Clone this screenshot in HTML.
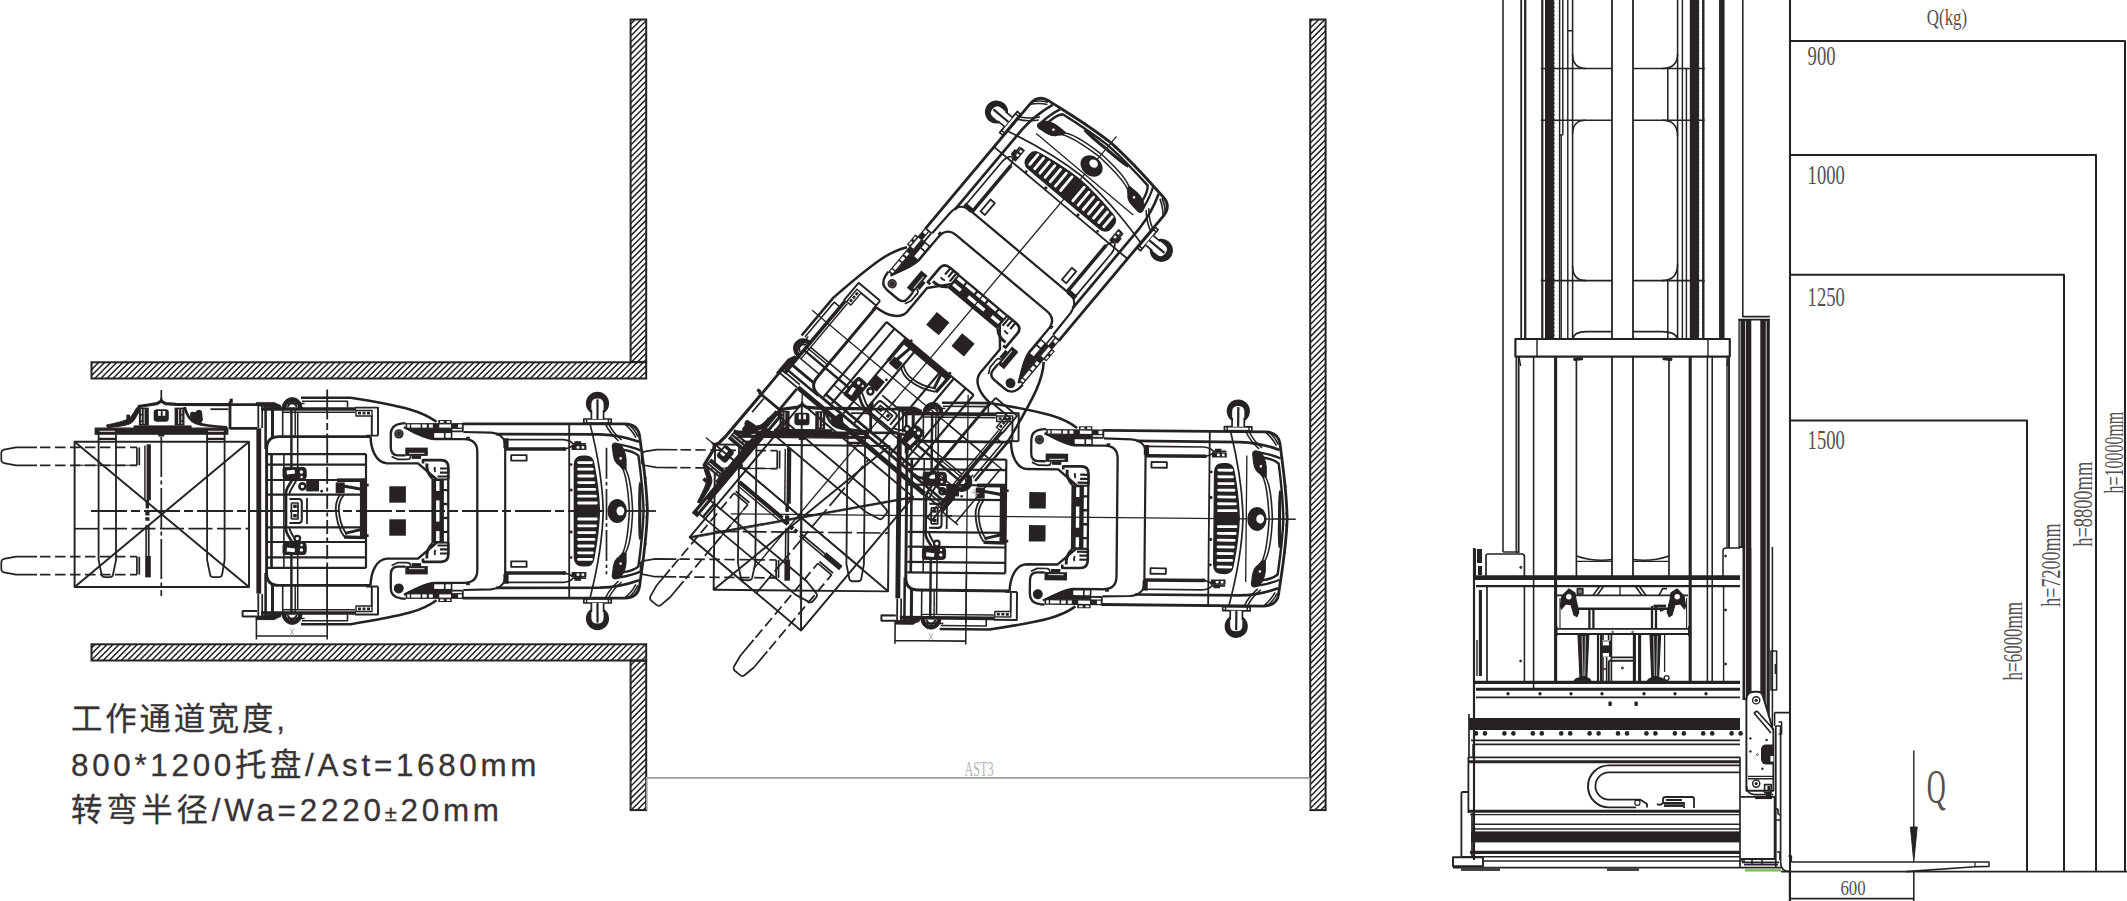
<!DOCTYPE html>
<html lang="zh"><head><meta charset="utf-8"><title>工作通道宽度</title>
<style>html,body{margin:0;padding:0;background:#fff;}body{width:2127px;height:901px;overflow:hidden;font-family:"Liberation Sans","Noto Sans CJK SC",sans-serif;}svg{display:block;position:absolute;left:0;top:0}</style>
</head><body>
<svg width="2127" height="901" viewBox="0 0 2127 901">
<defs>
<g id="half" fill="none" stroke="#262223" stroke-linecap="butt" stroke-linejoin="round">
<path d="M37,447.4 L16,447.4 L4,449.6 Q1.3,450.4 1.3,453 L1.3,459.8 Q1.3,462.4 4,463.2 L16,465.3 L37,465.3" stroke-width="1.71" />
<path d="M37,447.4L137,447.4" stroke-width="1.71" stroke-dasharray="10.5 4.5" stroke-dashoffset="-3"/>
<path d="M37,465.3L137,465.3" stroke-width="1.71" stroke-dasharray="10.5 4.5" stroke-dashoffset="-3"/>
<path d="M136.9,447.4L136.9,465.3" stroke-width="1.71" />
<path d="M139.3,447.4L139.3,465.3" stroke-width="1.71" />
<path d="M258.8,428.3L258.8,511" stroke-width="4.88" />
<path d="M258.3,404L258.3,428" stroke-width="1.83" />
<path d="M262.2,404L262.2,428" stroke-width="1.71" />
<path d="M265.6,404L265.6,449" stroke-width="2.56" />
<path d="M272.5,409L272.5,438" stroke-width="3.05" />
<path d="M256.2,402.4 L274,402.4 L281,405.6 L281,409 L256.2,405.4 Z" stroke-width="0.73" fill="#262223"/>
<path d="M261,409L356,409" stroke-width="3.66" />
<path d="M282.7,412.3L355,412.3" stroke-width="1.46" />
<path d="M355,407.6 L378,407.6 L378,435.6 M371.8,416 L371.8,435.6 M366,435.6 L378,435.6" stroke-width="1.95" />
<rect x="356" y="410.5" width="16" height="5.5" stroke-width="1.46" />
<path d="M358,413.2 L370,413.2" stroke-width="2.68" stroke-dasharray="3 1.5"/>
<path d="M282.2,408 A10,10.4 0 0 1 302.2,408 L298.6,408 A6.4,6.8 0 0 0 285.8,408 Z" stroke-width="0.98" fill="#262223"/>
<path d="M287.4,407 L292.2,400.6 L297,407 M285.6,403.6 L298.8,403.6" stroke-width="1.95" />
<path d="M296,403.5L304.6,403.5" stroke-width="1.46" />
<path d="M301,397.8 L350.5,397.8 C372,401.2 396,405.6 410,409.4 C421,412.6 429,416.2 436.5,421.8" stroke-width="2.56" />
<path d="M302,401.3 L347.5,401.3 L347.5,407.6" stroke-width="1.59" />
<path d="M282.7,409L282.7,436" stroke-width="1.59" />
<path d="M291.4,409L291.4,470" stroke-width="2.44" />
<path d="M295.2,409L295.2,436" stroke-width="1.46" />
<path d="M297.7,412L297.7,470" stroke-width="1.59" />
<path d="M266.6,511 L266.6,449 Q266.6,436.6 279,436.6 L370.5,436.6" stroke-width="2.93" />
<path d="M370.5,436.6 C371,450 376,462.5 387,463.4 L418,463.4 L436,478.8 L436,511" stroke-width="2.44" />
<path d="M268,454.2L366,454.2" stroke-width="2.2" />
<path d="M268,464.6L366,464.6" stroke-width="2.2" />
<path d="M268,480L366,480" stroke-width="2.2" />
<path d="M268,494.6L366,494.6" stroke-width="2.2" />
<path d="M271.5,454L271.5,511" stroke-width="2.68" />
<path d="M283.9,454L283.9,511" stroke-width="1.59" />
<path d="M366,454L366,511" stroke-width="2.2" />
<path d="M284.6,467.4 L303,467.4 Q306.2,467.4 306.2,470.6 L306.2,476.4 Q306.2,479.4 303,479.4 L286,479.4 Q283,479.4 283,476.4 L283,469 Q283,467.4 284.6,467.4 Z" stroke-width="0.98" fill="#262223"/>
<path d="M286.6,470.6 L294.6,469.8 L295,473.6 L287,474.6 Z" stroke-width="0.0" fill="#fff" stroke="none"/>
<circle cx="301.4" cy="472" r="1.7" fill="#fff" stroke="none"/>
<circle cx="301.6" cy="477" r="1.2" fill="#fff" stroke="none"/>
<path d="M292.4,479.4 C289.6,485 286,488 286,493 L286,511" stroke-width="2.68" />
<path d="M296.6,479.4 C294,486 289.6,489.6 289.4,494.6" stroke-width="1.95" />
<path d="M289.4,499 L298.6,499 Q301.8,499 301.8,502.2 L301.8,511" stroke-width="2.07" />
<path d="M291.4,503 L298,503 L298,511 M291.4,503 L291.4,511" stroke-width="1.71" />
<rect x="293.2" y="504.6" width="3.6" height="3.4" stroke-width="0.0" fill="#262223"/>
<path d="M307,498 L307,511" stroke-width="1.83" />
<rect x="389.3" y="486.3" width="16.6" height="16.4" stroke-width="0.0" fill="#262223"/>
<path d="M405.6,423.2 L401,423.6 C394.6,424.4 390.8,428 390.8,434 L390.8,447.6 C390.8,453 393.6,455.4 398,455.4 L405.4,455.4" stroke-width="2.32" />
<path d="M403.9,427.3 C410,430 414,432.4 418.3,434.2 C424,436.8 428,438.6 434,439.2 L464,439.2 Q477.3,439.2 477.3,452 L477.3,511" stroke-width="2.32" />
<circle cx="398.9" cy="433.9" r="4.7" stroke="none" fill="#2f2b2c"/>
<circle cx="398.9" cy="433.9" r="2.7" stroke="#5d595a" stroke-width="0.9" fill="none"/>
<rect x="405.3" y="447.6" width="22.5" height="8.3" stroke-width="0.0" fill="#262223"/>
<path d="M409,453.4L424.4,453.4" stroke-width="1.22" stroke="#c8c8c8"/>
<rect x="411.7" y="455.6" width="9.4" height="3.3" stroke-width="0.0" fill="#262223"/>
<path d="M391.6,456.4 L398,459.4 L407,459.4 Q410.6,459.4 410.6,456" stroke-width="1.71" />
<rect x="466.1" y="436.8" width="3.7" height="2.4" stroke-width="0.0" fill="#262223"/>
<rect x="405.6" y="423.1" width="57.2" height="5.8" stroke-width="0.0" fill="#262223"/>
<rect x="407.2" y="424.4" width="2.6" height="3.2" stroke-width="0.0" fill="#fff" stroke="none"/>
<rect x="411.2" y="424.4" width="9.4" height="3.2" stroke-width="0.0" fill="#fff" stroke="none"/>
<rect x="422.2" y="424.4" width="4.6" height="3.2" stroke-width="0.0" fill="#fff" stroke="none"/>
<rect x="428.9" y="424.4" width="3.9" height="3.2" stroke-width="0.0" fill="#fff" stroke="none"/>
<rect x="439.3" y="424.4" width="11.7" height="3.2" stroke-width="0.0" fill="#fff" stroke="none"/>
<rect x="458" y="424.4" width="4" height="3.2" stroke-width="0.0" fill="#fff" stroke="none"/>
<rect x="438.3" y="420" width="13.4" height="3.4" stroke-width="0.0" fill="#262223"/>
<rect x="440" y="421" width="3.8" height="1.7" stroke-width="0.0" fill="#fff" stroke="none"/>
<rect x="446.6" y="421" width="3.6" height="1.7" stroke-width="0.0" fill="#fff" stroke="none"/>
<path d="M406,428.8 C412,431.6 418,434.4 424,436.8 C428,438.4 432,439.4 436,439.4 L452,439.4 L452,428.8 Z" stroke-width="0.73" fill="#262223"/>
<rect x="434.2" y="433.1" width="9.7" height="4.6" stroke-width="0.0" fill="#fff" stroke="none"/>
<rect x="445.6" y="433.1" width="5.2" height="4.6" stroke-width="0.0" fill="#fff" stroke="none"/>
<path d="M452,431.4 L462.8,431.4 M462.8,423.1 L462.8,431.4" stroke-width="1.83" />
<path d="M423,463.4 L423,460.2 L441,460.2 Q448.4,460.2 448.4,468 L448.4,479" stroke-width="2.68" />
<path d="M427,463.6 C426,470 428,474 432.4,478.5" stroke-width="2.93" />
<path d="M440,468.5 L448,468.5 M440,472.6 L448,472.6 M437.5,476.5 L448,476.5" stroke-width="2.2" />
<path d="M435,467 q-1,3 0.5,5" stroke-width="1.95" />
<rect x="431.4" y="478.4" width="18" height="32.6" stroke-width="0.0" fill="#262223"/>
<rect x="436.1" y="481" width="3.4" height="9.899999999999977" stroke-width="0.0" fill="#fff" stroke="none"/>
<rect x="436.1" y="500.4" width="3.4" height="10.800000000000011" stroke-width="0.0" fill="#fff" stroke="none"/>
<rect x="443.9" y="480.4" width="3.2" height="8.600000000000023" stroke-width="0.0" fill="#fff" stroke="none"/>
<rect x="443.9" y="491.2" width="3.2" height="11.600000000000023" stroke-width="0.0" fill="#fff" stroke="none"/>
<rect x="443.9" y="505.2" width="3.2" height="6.0" stroke-width="0.0" fill="#fff" stroke="none"/>
<path d="M462.5,423.9 L625,423.9 C634,424.2 638.5,428.4 639.6,436 C641.5,452 646.6,480 647.4,511" stroke-width="2.81" />
<path d="M496,434.2 L600,434.3 C612,434.6 627,437.4 639,441.8" stroke-width="2.68" />
<path d="M463.3,432 L491,432.7 C499,433.4 505.2,437.6 505.2,446 L505.2,511" stroke-width="2.2" />
<rect x="503.4" y="438.2" width="5.2" height="10" stroke-width="0.0" fill="#262223"/>
<path d="M505,448.9 L565,448.9" stroke-width="3.54" />
<path d="M508,439.6 L563,439.6 Q570,440 573,443.8 L586,443.8" stroke-width="1.71" />
<path d="M563,448.9 Q570,448.6 573,445" stroke-width="1.71" />
<rect x="571.6" y="444.8" width="14.8" height="5.2" stroke-width="0.0" fill="#262223"/>
<rect x="574.4" y="441.2" width="6.6" height="3.8" stroke-width="0.0" fill="#262223"/>
<rect x="576.6" y="446.2" width="2.8" height="2.4" stroke-width="0.0" fill="#fff" stroke="none"/>
<rect x="581.6" y="446.2" width="2.6" height="2.4" stroke-width="0.0" fill="#fff" stroke="none"/>
<rect x="562.6" y="447.4" width="3.6" height="3.2" stroke-width="0.0" fill="#262223"/>
<rect x="511.2" y="455.1" width="15.4" height="5.6" stroke-width="1.83" />
<path d="M569.2,423.9L569.2,511" stroke-width="1.83" />
<path d="M571,490 l0.1,0" stroke-width="3.17" stroke-linecap="round"/>
<path d="M571,464.5 l0.1,0" stroke-width="2.68" stroke-linecap="round"/>
<rect x="583.8" y="419" width="27.4" height="4" stroke-width="1.71" />
<path d="M586.6,419L586.6,423" stroke-width="1.46" />
<path d="M608.4,419L608.4,423" stroke-width="1.46" />
<circle cx="597.5" cy="403.4" r="11.6" stroke="none" fill="#262223"/>
<path d="M591.4,419 L591.4,404 Q591.4,398.4 597.5,398.4 Q603.6,398.4 603.6,404 L603.6,419 Z" stroke-width="0.0" fill="#fff" stroke="none"/>
<path d="M591.4,419 L591.4,410 M603.6,419 L603.6,410" stroke-width="1.71" />
<path d="M597.5,399.4L597.5,419" stroke-width="2.2" />
<path d="M590,423.9 C596.6,450 602.6,480 603.2,511" stroke-width="1.71" />
<path d="M605.4,423.9 C609,432 613,436 618.6,441 " stroke-width="1.59" />
<path d="M608.6,423.9 C612,431 616,435.4 621.6,440" stroke-width="1.59" />
<path d="M624.6,423.8 C629,427.5 633,432 636,437.6" stroke-width="1.59" />
<path d="M628,423.8 C632,427 635.6,431.6 638,436.6" stroke-width="1.59" />
<path d="M612.3,446 Q612.6,443 615.4,443 L619.6,444 C622.6,447 625.4,453 626,459 L626,469 L623,469 L619,465 C615.6,463 614,459 613.4,455 Z" stroke-width="1.22" fill="#262223"/>
<circle cx="620.6" cy="458.4" r="1.3" fill="#fff" stroke="none"/>
<path d="M619.8,444.6 C628,446 634,447.6 640.4,450.4" stroke-width="2.32" />
<path d="M622.6,449.6 C630,450.6 635,452.4 638.4,455.6 C640.4,470 643,490 643.6,511" stroke-width="2.44" />
<path d="M621,466 C626,472 628,486 629.4,511" stroke-width="1.59" />
<path d="M624.6,468 C629.4,474 631.8,490 632.6,511" stroke-width="1.59" />
<path d="M640.6,482.5 C639.6,490 639.6,500 639.8,511" stroke-width="3.17" />
<path d="M644.6,478 l2,0.4 M645.6,505 l2.4,0" stroke-width="1.95" />
<path d="M574.4,511 L574.4,465 Q574.4,456.2 583,456.2 L586,456.2 Q592.4,456.2 593.6,463 C596.6,478 599,495 599.4,511 Z" stroke-width="1.46" fill="#262223"/>
<path d="M578.6,462.6 L591.5,462.6" stroke-width="2.81" stroke="#fff" stroke-linecap="round"/>
<path d="M578.6,469.2 L592.3,469.2" stroke-width="2.81" stroke="#fff" stroke-linecap="round"/>
<path d="M578.6,476 L593.1,476" stroke-width="2.81" stroke="#fff" stroke-linecap="round"/>
<path d="M578.6,482.6 L593.9,482.6" stroke-width="2.81" stroke="#fff" stroke-linecap="round"/>
<path d="M578.6,489.4 L594.7,489.4" stroke-width="2.81" stroke="#fff" stroke-linecap="round"/>
<path d="M578.6,496.2 L595.5,496.2" stroke-width="2.81" stroke="#fff" stroke-linecap="round"/>
<path d="M578.6,503 L596.3,503" stroke-width="2.81" stroke="#fff" stroke-linecap="round"/>
</g>
<g id="truck" fill="none" stroke="#262223" stroke-linejoin="round">
<use href="#half"/>
<use href="#half" transform="translate(0,1022) scale(1,-1)"/>
<rect x="74.6" y="441.7" width="174.4" height="145.3" stroke-width="1.95" />
<path d="M74.6,441.7L249,587" stroke-width="1.95" />
<path d="M74.6,587L249,441.7" stroke-width="1.95" />
<path d="M74.6,528.7L98,528.7" stroke-width="1.71" />
<path d="M103,528.7L249,528.7" stroke-width="1.71" stroke-dasharray="24 4.5"/>
<path d="M74.6,465.3L137,465.3" stroke-width="1.1" />
<rect x="146.6" y="444.3" width="4.3" height="56" stroke-width="0.0" fill="#262223"/>
<path d="M144.9,445.5L144.9,500" stroke-width="1.46" />
<rect x="145.6" y="500" width="3.4" height="8.5" stroke-width="0.0" fill="#262223"/>
<path d="M147.4,512L147.4,521" stroke-width="4.15" stroke-dasharray="3.6 1.6"/>
<path d="M146.1,525L146.1,556" stroke-width="1.59" />
<path d="M148.7,525L148.7,556" stroke-width="1.83" />
<rect x="145.2" y="556" width="5.6" height="21.4" stroke-width="0.0" fill="#262223"/>
<path d="M98.6,434 L98.6,560 L101.6,574.6 Q102.2,577.2 104.8,577.2 L109.8,577.2 Q112.4,577.2 113,574.6 L116,560 L116,434" stroke-width="1.83" />
<path d="M207.1,434 L207.1,560 L210.1,574.6 Q210.7,577.2 213.3,577.2 L218.9,577.2 Q221.5,577.2 222.1,574.6 L224.6,560 L224.6,434" stroke-width="1.83" />
<path d="M95.2,428.2 L227.8,428.2 L227.8,434.2 L95.2,434.2 Z" stroke-width="1.22" fill="#262223"/>
<path d="M99.6,431.3L114.8,431.3" stroke-width="1.1" stroke="#ddd"/>
<path d="M208,431.3L223.8,431.3" stroke-width="1.1" stroke="#ddd"/>
<rect x="158.3" y="434" width="6" height="2.6" stroke-width="0.0" fill="#262223"/>
<path d="M98,438.9 L116.6,438.9 M206.8,438.9 L224.8,438.9" stroke-width="2.44" />
<rect x="133.6" y="425.4" width="58" height="3.4" stroke-width="0.0" fill="#262223"/>
<path d="M138,406.6 L148,405 L157,403.6 L161.3,401.2 L165.6,403.6 L176,404.4 L231,404.7" stroke-width="3.17" />
<path d="M138.6,406 C134.6,409 133,416 129,418.4 C124,421.4 114,423.4 106.6,425 L107.4,427.6 C118,426.6 127,425.6 131.4,423 C135.6,420 137,414 140.6,409.6 Z" stroke-width="0.98" fill="#262223"/>
<path d="M128.2,414.6 L128.2,419.6" stroke-width="3.66" />
<rect x="138.9" y="407.6" width="9.9" height="18" stroke-width="0.0" fill="#262223"/>
<path d="M141.4,409L141.4,424" stroke-width="0.98" stroke="#d8d8d8" stroke-dasharray="5 1.5"/>
<path d="M144.2,409L144.2,424" stroke-width="0.98" stroke="#d8d8d8"/>
<rect x="174.6" y="407.6" width="9.9" height="18" stroke-width="0.0" fill="#262223"/>
<path d="M178.6,409L178.6,424" stroke-width="0.98" stroke="#d8d8d8"/>
<path d="M181.8,409L181.8,424" stroke-width="0.98" stroke="#d8d8d8" stroke-dasharray="5 1.5"/>
<rect x="153.7" y="409.2" width="15.1" height="12.6" stroke-width="0.0" fill="#262223" rx="3.2"/>
<rect x="158.1" y="411" width="2.7" height="4.8" stroke-width="0.0" fill="#fff" stroke="none"/>
<rect x="162.6" y="411" width="2.7" height="4.8" stroke-width="0.0" fill="#fff" stroke="none"/>
<path d="M161.3,398L161.3,403" stroke-width="2.2" />
<path d="M184.6,407 C186.6,415 189.6,420.6 196,423 C203,425.4 212,426.4 227,427.4" stroke-width="2.81" />
<path d="M191,413 C192.6,411.4 194.6,413.6 196,412.4 C197,410 200.6,409.6 201.4,412 L202.3,420 L199.6,424.4 L194.4,422 C191.6,419.6 190,416 191,413 Z" stroke-width="1.22" fill="#262223"/>
<path d="M230,401.6 L230,429.3 M230,428.4 L257,428.4 M230,404.7 L257,404.7" stroke-width="2.81" />
<path d="M231.2,398.6 l0,4.4" stroke-width="3.17" />
<path d="M210.4,409.2 L228.4,409.2" stroke-width="1.83" />
<path d="M257,404.4L273.3,404.4" stroke-width="2.68" />
<path d="M257,618.2L275,618.2" stroke-width="3.17" />
<path d="M242.6,611 L257,611 M242.6,616.4 L257,616.4 M242.6,610.4 L242.6,617" stroke-width="1.95" />
<path d="M256.4,618 L256.4,639.4 M327.2,566 L327.2,639.4 M256.4,636 L327.2,636" stroke-width="1.59" />
<path d="M290.2,628.4 L294.2,635.4 M294.2,628.4 L290.2,635.4" stroke-width="0.98" stroke="#aaa"/>
<rect x="306.2" y="480.2" width="12.8" height="11.2" stroke-width="0.0" fill="#262223"/>
<circle cx="302.4" cy="486.4" r="3" fill="#fff" stroke-width="2.6"/>
<path d="M321.6,491.2 l0.1,0" stroke-width="2.68" stroke-linecap="round"/>
<path d="M307,511 L312,511" stroke-width="1.71" />
<circle cx="297.3" cy="538.6" r="2.8" fill="#fff" stroke-width="2.2"/>
<path d="M337,480.2 L366.3,480.2" stroke-width="3.66" />
<rect x="359.9" y="478.8" width="6.4" height="59.4" stroke-width="0.0" fill="#262223"/>
<rect x="335.7" y="482.4" width="9" height="10.8" stroke-width="0.0" fill="#262223"/>
<path d="M342,485.8 L361.6,489.2" stroke-width="3.17" />
<path d="M340.6,494 C337,499 335.6,503 335.8,509 C336,518 338,527 344,536.6" stroke-width="1.83" />
<path d="M343.6,495 C340,500 338.6,504 338.8,509 C339,518 341,526 346.6,534.4" stroke-width="1.83" />
<path d="M344,537 L366,537.6" stroke-width="3.42" />
<path d="M345,533.4 L360.6,529.6" stroke-width="2.93" />
<path d="M366.3,485.2 l2.4,0 M366.3,535.6 l2.4,0" stroke-width="2.68" />
<circle cx="398.7" cy="588.7" r="4.8" stroke="none" fill="#262223"/>
<rect x="579" y="505.4" width="17" height="11.2" stroke-width="0.0" fill="#262223"/>
<ellipse cx="617.2" cy="511" rx="9.7" ry="12" stroke="none" fill="#262223"/>
<ellipse cx="620.4" cy="511" rx="3.9" ry="4.5" fill="#fff" stroke="none"/>
</g>
<g id="clA" fill="none" stroke="#262223"><path d="M91,511L607,511" stroke-width="1.83" stroke-dasharray="36 4 9 4"/>
<path d="M625,511L656,511" stroke-width="1.83" />
<path d="M161.3,390L161.3,401" stroke-width="1.71" />
<path d="M161.3,437L161.3,596" stroke-width="1.71" stroke-dasharray="40 3.5 4 3.5"/>
<path d="M327.2,389.6L327.2,470" stroke-width="1.83" stroke-dasharray="30 3.5 7 3.5"/>
<path d="M327.2,470L327.2,566" stroke-width="1.83" stroke-dasharray="14 3.5 4 3.5"/>
<path d="M327.2,566L327.2,618" stroke-width="1.59" />
<path d="M606.5,447.7L606.5,574.3" stroke-width="1.71" stroke-dasharray="31 3.4 3.4 3.4"/></g>
<g id="clB" fill="none" stroke="#262223"><path d="M91,511L607,511" stroke-width="1.34" />
<path d="M625,511L656,511" stroke-width="1.34" />
<path d="M161.3,390L161.3,401" stroke-width="1.34" />
<path d="M161.3,437L161.3,596" stroke-width="1.34" />
<path d="M327.2,389.6L327.2,618" stroke-width="1.34" />
<path d="M606.5,447.7L606.5,574.3" stroke-width="1.34" /></g>
</defs>
<rect width="2127" height="901" fill="#fff"/>
<clipPath id="wc0"><rect x="91.5" y="362.3" width="554.7" height="16.2"/></clipPath>
<path clip-path="url(#wc0)" d="M89.5,365.6L94.8,360.3M89.5,371.6L100.8,360.3M89.5,377.6L106.8,360.3M92.7,380.5L112.9,360.3M98.8,380.5L118.9,360.3M104.8,380.5L125.0,360.3M110.9,380.5L131.1,360.3M116.9,380.5L137.1,360.3M122.9,380.5L143.1,360.3M129.0,380.5L149.2,360.3M135.0,380.5L155.2,360.3M141.1,380.5L161.3,360.3M147.1,380.5L167.3,360.3M153.2,380.5L173.4,360.3M159.2,380.5L179.4,360.3M165.3,380.5L185.5,360.3M171.3,380.5L191.5,360.3M177.4,380.5L197.6,360.3M183.4,380.5L203.6,360.3M189.5,380.5L209.7,360.3M195.5,380.5L215.7,360.3M201.6,380.5L221.8,360.3M207.6,380.5L227.8,360.3M213.7,380.5L233.9,360.3M219.7,380.5L239.9,360.3M225.8,380.5L246.0,360.3M231.8,380.5L252.0,360.3M237.9,380.5L258.1,360.3M243.9,380.5L264.1,360.3M250.0,380.5L270.2,360.3M256.0,380.5L276.2,360.3M262.1,380.5L282.3,360.3M268.1,380.5L288.3,360.3M274.2,380.5L294.4,360.3M280.2,380.5L300.4,360.3M286.3,380.5L306.5,360.3M292.3,380.5L312.5,360.3M298.4,380.5L318.6,360.3M304.4,380.5L324.6,360.3M310.5,380.5L330.7,360.3M316.5,380.5L336.7,360.3M322.6,380.5L342.8,360.3M328.6,380.5L348.8,360.3M334.7,380.5L354.9,360.3M340.7,380.5L360.9,360.3M346.8,380.5L367.0,360.3M352.8,380.5L373.0,360.3M358.9,380.5L379.1,360.3M364.9,380.5L385.1,360.3M371.0,380.5L391.2,360.3M377.0,380.5L397.2,360.3M383.1,380.5L403.3,360.3M389.1,380.5L409.3,360.3M395.2,380.5L415.4,360.3M401.2,380.5L421.4,360.3M407.3,380.5L427.5,360.3M413.3,380.5L433.5,360.3M419.4,380.5L439.6,360.3M425.4,380.5L445.6,360.3M431.5,380.5L451.7,360.3M437.5,380.5L457.7,360.3M443.6,380.5L463.8,360.3M449.6,380.5L469.8,360.3M455.7,380.5L475.9,360.3M461.7,380.5L481.9,360.3M467.8,380.5L488.0,360.3M473.8,380.5L494.0,360.3M479.9,380.5L500.1,360.3M485.9,380.5L506.1,360.3M492.0,380.5L512.2,360.3M498.0,380.5L518.2,360.3M504.1,380.5L524.3,360.3M510.1,380.5L530.3,360.3M516.2,380.5L536.4,360.3M522.2,380.5L542.4,360.3M528.3,380.5L548.5,360.3M534.3,380.5L554.5,360.3M540.4,380.5L560.6,360.3M546.4,380.5L566.6,360.3M552.5,380.5L572.7,360.3M558.5,380.5L578.8,360.3M564.6,380.5L584.8,360.3M570.6,380.5L590.8,360.3M576.7,380.5L596.9,360.3M582.7,380.5L602.9,360.3M588.8,380.5L609.0,360.3M594.8,380.5L615.0,360.3M600.9,380.5L621.1,360.3M606.9,380.5L627.1,360.3M613.0,380.5L633.2,360.3M619.0,380.5L639.2,360.3M625.1,380.5L645.3,360.3M631.1,380.5L648.2,363.4M637.2,380.5L648.2,369.5M643.2,380.5L648.2,375.5" stroke="#262223" stroke-width="1.5" fill="none"/>
<rect x="91.5" y="362.3" width="554.7" height="16.2" fill="none" stroke="#262223" stroke-width="2"/>
<clipPath id="wc1"><rect x="630.6" y="19.5" width="15.6" height="342.4"/></clipPath>
<path clip-path="url(#wc1)" d="M628.6,20.0L631.1,17.5M628.6,26.1L637.2,17.5M628.6,32.1L643.2,17.5M628.6,38.2L648.2,18.6M628.6,44.2L648.2,24.6M628.6,50.3L648.2,30.7M628.6,56.3L648.2,36.7M628.6,62.4L648.2,42.8M628.6,68.4L648.2,48.8M628.6,74.5L648.2,54.9M628.6,80.5L648.2,60.9M628.6,86.6L648.2,67.0M628.6,92.6L648.2,73.0M628.6,98.7L648.2,79.1M628.6,104.7L648.2,85.1M628.6,110.8L648.2,91.2M628.6,116.8L648.2,97.2M628.6,122.9L648.2,103.3M628.6,128.9L648.2,109.3M628.6,135.0L648.2,115.4M628.6,141.0L648.2,121.4M628.6,147.1L648.2,127.5M628.6,153.1L648.2,133.5M628.6,159.2L648.2,139.6M628.6,165.2L648.2,145.6M628.6,171.3L648.2,151.7M628.6,177.3L648.2,157.7M628.6,183.4L648.2,163.8M628.6,189.4L648.2,169.8M628.6,195.5L648.2,175.9M628.6,201.5L648.2,181.9M628.6,207.6L648.2,188.0M628.6,213.6L648.2,194.0M628.6,219.7L648.2,200.1M628.6,225.7L648.2,206.1M628.6,231.8L648.2,212.2M628.6,237.8L648.2,218.2M628.6,243.9L648.2,224.3M628.6,249.9L648.2,230.3M628.6,256.0L648.2,236.4M628.6,262.0L648.2,242.4M628.6,268.1L648.2,248.5M628.6,274.1L648.2,254.5M628.6,280.2L648.2,260.6M628.6,286.2L648.2,266.6M628.6,292.3L648.2,272.7M628.6,298.3L648.2,278.7M628.6,304.4L648.2,284.8M628.6,310.4L648.2,290.8M628.6,316.5L648.2,296.9M628.6,322.5L648.2,302.9M628.6,328.6L648.2,309.0M628.6,334.6L648.2,315.0M628.6,340.7L648.2,321.1M628.6,346.7L648.2,327.1M628.6,352.8L648.2,333.2M628.6,358.8L648.2,339.2M629.6,363.9L648.2,345.3M635.6,363.9L648.2,351.3M641.7,363.9L648.2,357.4M647.8,363.9L648.2,363.4" stroke="#262223" stroke-width="1.5" fill="none"/>
<rect x="630.6" y="19.5" width="15.6" height="342.4" fill="none" stroke="#262223" stroke-width="2"/>
<clipPath id="wc2"><rect x="91.5" y="644.3" width="554.7" height="16.2"/></clipPath>
<path clip-path="url(#wc2)" d="M89.5,643.8L91.0,642.3M89.5,649.9L97.1,642.3M89.5,655.9L103.1,642.3M89.5,662.0L109.2,642.3M95.0,662.5L115.2,642.3M101.1,662.5L121.3,642.3M107.1,662.5L127.4,642.3M113.2,662.5L133.4,642.3M119.2,662.5L139.4,642.3M125.3,662.5L145.5,642.3M131.3,662.5L151.5,642.3M137.4,662.5L157.6,642.3M143.4,662.5L163.6,642.3M149.5,662.5L169.7,642.3M155.5,662.5L175.8,642.3M161.6,662.5L181.8,642.3M167.6,662.5L187.9,642.3M173.7,662.5L193.9,642.3M179.7,662.5L199.9,642.3M185.8,662.5L206.0,642.3M191.8,662.5L212.0,642.3M197.9,662.5L218.1,642.3M203.9,662.5L224.1,642.3M210.0,662.5L230.2,642.3M216.0,662.5L236.2,642.3M222.1,662.5L242.3,642.3M228.1,662.5L248.4,642.3M234.2,662.5L254.4,642.3M240.2,662.5L260.4,642.3M246.3,662.5L266.5,642.3M252.3,662.5L272.5,642.3M258.4,662.5L278.6,642.3M264.4,662.5L284.6,642.3M270.5,662.5L290.7,642.3M276.5,662.5L296.8,642.3M282.6,662.5L302.8,642.3M288.6,662.5L308.9,642.3M294.7,662.5L314.9,642.3M300.7,662.5L320.9,642.3M306.8,662.5L327.0,642.3M312.8,662.5L333.0,642.3M318.9,662.5L339.1,642.3M324.9,662.5L345.1,642.3M331.0,662.5L351.2,642.3M337.0,662.5L357.2,642.3M343.1,662.5L363.3,642.3M349.1,662.5L369.4,642.3M355.2,662.5L375.4,642.3M361.2,662.5L381.4,642.3M367.3,662.5L387.5,642.3M373.3,662.5L393.5,642.3M379.4,662.5L399.6,642.3M385.4,662.5L405.6,642.3M391.5,662.5L411.7,642.3M397.5,662.5L417.8,642.3M403.6,662.5L423.8,642.3M409.6,662.5L429.8,642.3M415.7,662.5L435.9,642.3M421.8,662.5L442.0,642.3M427.8,662.5L448.0,642.3M433.8,662.5L454.0,642.3M439.9,662.5L460.1,642.3M445.9,662.5L466.1,642.3M452.0,662.5L472.2,642.3M458.0,662.5L478.2,642.3M464.1,662.5L484.3,642.3M470.1,662.5L490.3,642.3M476.2,662.5L496.4,642.3M482.2,662.5L502.5,642.3M488.3,662.5L508.5,642.3M494.3,662.5L514.5,642.3M500.4,662.5L520.6,642.3M506.4,662.5L526.6,642.3M512.5,662.5L532.7,642.3M518.5,662.5L538.8,642.3M524.6,662.5L544.8,642.3M530.6,662.5L550.8,642.3M536.7,662.5L556.9,642.3M542.8,662.5L563.0,642.3M548.8,662.5L569.0,642.3M554.8,662.5L575.0,642.3M560.9,662.5L581.1,642.3M566.9,662.5L587.1,642.3M573.0,662.5L593.2,642.3M579.0,662.5L599.2,642.3M585.1,662.5L605.3,642.3M591.1,662.5L611.3,642.3M597.2,662.5L617.4,642.3M603.2,662.5L623.5,642.3M609.3,662.5L629.5,642.3M615.3,662.5L635.5,642.3M621.4,662.5L641.6,642.3M627.4,662.5L647.6,642.3M633.5,662.5L648.2,647.8M639.5,662.5L648.2,653.8M645.6,662.5L648.2,659.9" stroke="#262223" stroke-width="1.5" fill="none"/>
<rect x="91.5" y="644.3" width="554.7" height="16.2" fill="none" stroke="#262223" stroke-width="2"/>
<clipPath id="wc3"><rect x="630.6" y="660.7" width="15.6" height="149.4"/></clipPath>
<path clip-path="url(#wc3)" d="M628.6,661.3L631.2,658.7M628.6,667.4L637.3,658.7M628.6,673.4L643.3,658.7M628.6,679.5L648.2,659.9M628.6,685.5L648.2,665.9M628.6,691.6L648.2,672.0M628.6,697.6L648.2,678.0M628.6,703.7L648.2,684.1M628.6,709.7L648.2,690.1M628.6,715.8L648.2,696.2M628.6,721.8L648.2,702.2M628.6,727.9L648.2,708.3M628.6,733.9L648.2,714.3M628.6,740.0L648.2,720.4M628.6,746.0L648.2,726.4M628.6,752.1L648.2,732.5M628.6,758.1L648.2,738.5M628.6,764.2L648.2,744.6M628.6,770.2L648.2,750.6M628.6,776.3L648.2,756.7M628.6,782.3L648.2,762.7M628.6,788.4L648.2,768.8M628.6,794.4L648.2,774.8M628.6,800.5L648.2,780.9M628.6,806.5L648.2,786.9M629.1,812.1L648.2,793.0M635.1,812.1L648.2,799.0M641.2,812.1L648.2,805.1M647.2,812.1L648.2,811.1" stroke="#262223" stroke-width="1.5" fill="none"/>
<rect x="630.6" y="660.7" width="15.6" height="149.4" fill="none" stroke="#262223" stroke-width="2"/>
<clipPath id="wc4"><rect x="1310.2" y="19.5" width="15.4" height="790.6"/></clipPath>
<path clip-path="url(#wc4)" d="M1308.2,18.0L1308.8,17.5M1308.2,24.1L1314.8,17.5M1308.2,30.1L1320.8,17.5M1308.2,36.2L1326.9,17.5M1308.2,42.2L1327.6,22.8M1308.2,48.3L1327.6,28.9M1308.2,54.3L1327.6,34.9M1308.2,60.4L1327.6,41.0M1308.2,66.4L1327.6,47.0M1308.2,72.5L1327.6,53.1M1308.2,78.5L1327.6,59.1M1308.2,84.6L1327.6,65.2M1308.2,90.6L1327.6,71.2M1308.2,96.7L1327.6,77.3M1308.2,102.7L1327.6,83.3M1308.2,108.8L1327.6,89.4M1308.2,114.8L1327.6,95.4M1308.2,120.9L1327.6,101.5M1308.2,126.9L1327.6,107.5M1308.2,133.0L1327.6,113.6M1308.2,139.0L1327.6,119.6M1308.2,145.1L1327.6,125.7M1308.2,151.1L1327.6,131.7M1308.2,157.2L1327.6,137.8M1308.2,163.2L1327.6,143.8M1308.2,169.3L1327.6,149.9M1308.2,175.3L1327.6,155.9M1308.2,181.4L1327.6,162.0M1308.2,187.4L1327.6,168.0M1308.2,193.5L1327.6,174.1M1308.2,199.5L1327.6,180.1M1308.2,205.6L1327.6,186.2M1308.2,211.6L1327.6,192.2M1308.2,217.7L1327.6,198.3M1308.2,223.7L1327.6,204.3M1308.2,229.8L1327.6,210.4M1308.2,235.8L1327.6,216.4M1308.2,241.9L1327.6,222.5M1308.2,247.9L1327.6,228.5M1308.2,254.0L1327.6,234.6M1308.2,260.0L1327.6,240.6M1308.2,266.1L1327.6,246.7M1308.2,272.1L1327.6,252.7M1308.2,278.2L1327.6,258.8M1308.2,284.2L1327.6,264.8M1308.2,290.3L1327.6,270.9M1308.2,296.3L1327.6,276.9M1308.2,302.4L1327.6,283.0M1308.2,308.4L1327.6,289.0M1308.2,314.5L1327.6,295.1M1308.2,320.5L1327.6,301.1M1308.2,326.6L1327.6,307.2M1308.2,332.6L1327.6,313.2M1308.2,338.7L1327.6,319.3M1308.2,344.7L1327.6,325.3M1308.2,350.8L1327.6,331.4M1308.2,356.8L1327.6,337.4M1308.2,362.9L1327.6,343.5M1308.2,368.9L1327.6,349.5M1308.2,375.0L1327.6,355.6M1308.2,381.0L1327.6,361.6M1308.2,387.1L1327.6,367.7M1308.2,393.1L1327.6,373.7M1308.2,399.2L1327.6,379.8M1308.2,405.2L1327.6,385.8M1308.2,411.3L1327.6,391.9M1308.2,417.3L1327.6,397.9M1308.2,423.4L1327.6,404.0M1308.2,429.4L1327.6,410.0M1308.2,435.5L1327.6,416.1M1308.2,441.5L1327.6,422.1M1308.2,447.6L1327.6,428.2M1308.2,453.6L1327.6,434.2M1308.2,459.7L1327.6,440.3M1308.2,465.7L1327.6,446.3M1308.2,471.8L1327.6,452.4M1308.2,477.8L1327.6,458.4M1308.2,483.9L1327.6,464.5M1308.2,489.9L1327.6,470.5M1308.2,496.0L1327.6,476.6M1308.2,502.0L1327.6,482.6M1308.2,508.1L1327.6,488.7M1308.2,514.1L1327.6,494.7M1308.2,520.2L1327.6,500.8M1308.2,526.2L1327.6,506.8M1308.2,532.3L1327.6,512.9M1308.2,538.3L1327.6,518.9M1308.2,544.4L1327.6,525.0M1308.2,550.4L1327.6,531.0M1308.2,556.5L1327.6,537.1M1308.2,562.5L1327.6,543.1M1308.2,568.6L1327.6,549.2M1308.2,574.6L1327.6,555.2M1308.2,580.7L1327.6,561.3M1308.2,586.7L1327.6,567.3M1308.2,592.8L1327.6,573.4M1308.2,598.8L1327.6,579.4M1308.2,604.9L1327.6,585.5M1308.2,610.9L1327.6,591.5M1308.2,617.0L1327.6,597.6M1308.2,623.0L1327.6,603.6M1308.2,629.1L1327.6,609.7M1308.2,635.1L1327.6,615.7M1308.2,641.2L1327.6,621.8M1308.2,647.2L1327.6,627.8M1308.2,653.3L1327.6,633.9M1308.2,659.3L1327.6,639.9M1308.2,665.4L1327.6,646.0M1308.2,671.4L1327.6,652.0M1308.2,677.5L1327.6,658.1M1308.2,683.5L1327.6,664.1M1308.2,689.6L1327.6,670.2M1308.2,695.6L1327.6,676.2M1308.2,701.7L1327.6,682.3M1308.2,707.7L1327.6,688.3M1308.2,713.8L1327.6,694.4M1308.2,719.8L1327.6,700.4M1308.2,725.9L1327.6,706.5M1308.2,731.9L1327.6,712.5M1308.2,738.0L1327.6,718.6M1308.2,744.0L1327.6,724.6M1308.2,750.1L1327.6,730.7M1308.2,756.1L1327.6,736.7M1308.2,762.2L1327.6,742.8M1308.2,768.3L1327.6,748.9M1308.2,774.3L1327.6,754.9M1308.2,780.4L1327.6,761.0M1308.2,786.4L1327.6,767.0M1308.2,792.5L1327.6,773.0M1308.2,798.5L1327.6,779.1M1308.2,804.5L1327.6,785.1M1308.2,810.6L1327.6,791.2M1312.8,812.1L1327.6,797.2M1318.8,812.1L1327.6,803.3M1324.9,812.1L1327.6,809.4" stroke="#262223" stroke-width="1.5" fill="none"/>
<rect x="1310.2" y="19.5" width="15.4" height="790.6" fill="none" stroke="#262223" stroke-width="2"/>
<g stroke="#9c9c9c" stroke-width="1.8" fill="none"><line x1="646" y1="777.8" x2="1310" y2="777.8"/><line x1="646.6" y1="777" x2="646.6" y2="810" stroke-width="1.2"/><line x1="1309.6" y1="777" x2="1309.6" y2="810" stroke-width="1.2"/></g>
<text x="979" y="775.6" font-family="'Liberation Serif',serif" font-size="21" fill="#b4b4b4" text-anchor="middle" textLength="29" lengthAdjust="spacingAndGlyphs">AST3</text>
<g><use href="#truck"/><use href="#clA"/></g>
<g transform="translate(644.7,2) rotate(0.55)"><use href="#truck"/><use href="#clB"/></g>
<g transform="translate(303.4,310.4) rotate(-50)"><use href="#truck"/><use href="#clB"/></g>
<path d="M690,538.5 L905,499.4" stroke="#262223" stroke-width="0.8" fill="none"/>
<g fill="none" stroke="#262223" stroke-linejoin="round">
<path d="M1503,0L1503,552" stroke-width="1.56" />
<path d="M1521.2,0L1521.2,339" stroke-width="1.8" />
<path d="M1525.2,0L1525.2,339" stroke-width="2.28" />
<rect x="1545" y="0" width="9.6" height="339" stroke-width="0.0" fill="#262223"/>
<path d="M1542.3,0L1542.3,339" stroke-width="2.16" />
<path d="M1554.4,0L1554.4,339" stroke-width="0.84" stroke="#eee" stroke-dasharray="2.4 1.6"/>
<path d="M1559.6,0L1559.6,339" stroke-width="1.44" />
<path d="M1562.8,0L1562.8,135" stroke-width="1.44" />
<path d="M1561.2,135L1561.2,339" stroke-width="1.44" />
<path d="M1567.8,0L1567.8,339" stroke-width="1.44" />
<path d="M1572.6,0L1572.6,339" stroke-width="1.56" />
<path d="M1567.8,30.8 L1572.6,30.8 M1559.6,135 L1562.8,135" stroke-width="1.44" />
<path d="M1612,0L1612,339" stroke-width="1.8" />
<path d="M1633,0L1633,339" stroke-width="1.8" />
<path d="M1677.6,0L1677.6,339" stroke-width="1.56" />
<path d="M1682.4,0L1682.4,339" stroke-width="1.44" />
<path d="M1686.4,68.5L1686.4,339" stroke-width="1.44" />
<rect x="1689.8" y="0" width="9.4" height="339" stroke-width="0.0" fill="#262223"/>
<path d="M1703.3,0L1703.3,339" stroke-width="2.4" />
<path d="M1699.4,0L1699.4,339" stroke-width="0.84" stroke="#eee" stroke-dasharray="2.4 1.6"/>
<path d="M1721.8,0L1721.8,339" stroke-width="5.52" />
<path d="M1742.8,0L1742.8,317" stroke-width="1.56" />
<path d="M1540.8,68.5L1612,68.5" stroke-width="1.56" />
<path d="M1633,68.5L1704.8,68.5" stroke-width="1.56" />
<path d="M1540.8,120.2L1612,120.2" stroke-width="1.56" />
<path d="M1633,120.2L1704.8,120.2" stroke-width="1.56" />
<path d="M1540.8,280.6L1612,280.6" stroke-width="1.56" />
<path d="M1633,280.6L1704.8,280.6" stroke-width="1.56" />
<path d="M1572.6,54 Q1572.6,68.5 1586,68.5" stroke-width="1.56" />
<path d="M1586,120.2 Q1572.6,120.2 1572.6,134 M1572.6,266 Q1572.6,280.6 1586,280.6" stroke-width="1.56" />
<path d="M1586,331.6 Q1574,331.6 1572.6,339 M1586,331.6 L1612,331.6" stroke-width="1.56" />
<path d="M1677.6,54 Q1677.6,68.5 1662,68.5" stroke-width="1.56" />
<path d="M1662,120.2 Q1677.6,120.2 1677.6,136 M1677.6,264 Q1677.6,280.6 1662,280.6" stroke-width="1.56" />
<path d="M1662,331.6 Q1676,331.6 1677.6,339 M1633,331.6 L1662,331.6" stroke-width="1.56" />
<path d="M1667.8,68.5L1667.8,120.2" stroke-width="1.56" />
<path d="M1667.8,280.6L1667.8,339" stroke-width="1.56" />
<rect x="1515.4" y="339" width="214.4" height="17.6" stroke-width="2.16" fill="#fff"/>
<path d="M1537,339L1537,356.6" stroke-width="1.44" />
<path d="M1708,339L1708,356.6" stroke-width="1.44" />
<path d="M1516.2,356.6L1516.2,553" stroke-width="1.44" />
<path d="M1518.6,356.6L1518.6,553" stroke-width="1.92" />
<path d="M1503,552L1518.6,552" stroke-width="1.44" />
<path d="M1519,356.6 L1520.6,366" stroke-width="1.44" />
<path d="M1728.6,356.6 L1727,366" stroke-width="1.44" />
<path d="M1533.6,356.6L1533.6,690" stroke-width="1.56" />
<path d="M1555.6,356.6L1555.6,681" stroke-width="3.12" />
<path d="M1576.4,360L1576.4,576" stroke-width="1.68" />
<path d="M1612,356.6L1612,576" stroke-width="1.8" />
<path d="M1633,356.6L1633,576" stroke-width="1.8" />
<path d="M1669,360L1669,576" stroke-width="1.68" />
<path d="M1690.2,356.6L1690.2,681" stroke-width="3.12" />
<path d="M1707.4,356.6L1707.4,681" stroke-width="1.56" />
<path d="M1712.2,356.6L1712.2,681" stroke-width="1.56" />
<path d="M1727,356.6L1727,548" stroke-width="1.44" />
<path d="M1729,356.6L1729,548" stroke-width="1.92" />
<path d="M1574.6,359.4 l7,-0.6 M1664,358.8 l7,0.6" stroke-width="3.12" stroke-linecap="round"/>
<path d="M1576.4,556 Q1594,562 1612,559.6 M1633,559.6 Q1652,562 1669,556" stroke-width="1.56" />
<path d="M1576.4,561.4 L1612,561.4 M1633,561.4 L1669,561.4" stroke-width="1.44" />
<path d="M1742.7,316.6 L1769.8,316.6 M1738.4,319.6 L1769.8,319.6" stroke-width="1.56" />
<rect x="1738.4" y="319" width="12.9" height="229" stroke-width="0.0" fill="#262223"/>
<rect x="1742.5" y="548" width="9" height="152" stroke-width="0.0" fill="#262223"/>
<path d="M1740.2,321L1740.2,546" stroke-width="0.84" stroke="#e8e8e8"/>
<path d="M1745.5,321L1745.5,698" stroke-width="0.96" stroke="#ccc"/>
<rect x="1760.3" y="319" width="9.5" height="407" stroke-width="0.0" fill="#262223"/>
<path d="M1766.2,321L1766.2,724" stroke-width="0.96" stroke="#ccc"/>
<path d="M1772.4,547L1772.4,726" stroke-width="1.56" />
<rect x="1771" y="651" width="5.6" height="39" stroke-width="1.56" />
<rect x="1774.6" y="664" width="2.4" height="10" stroke-width="0.0" fill="#262223"/>
<path d="M1790,0L1790,901" stroke-width="2.04" />
<path d="M1486,576 L1486,556 Q1486,554 1488,554 L1522,554 Q1524.4,554 1524.4,556.4 L1524.4,576" stroke-width="1.68" />
<path d="M1474.6,548.6 L1474.6,576" stroke-width="2.88" />
<rect x="1477" y="549" width="5" height="14" stroke-width="0.0" fill="#262223"/>
<rect x="1478" y="566" width="4" height="9" stroke-width="0.0" fill="#262223"/>
<circle cx="1520.8" cy="567.4" r="1.1" stroke-width="0.8" fill="#262223"/>
<path d="M1723,576 L1723,551 Q1723,548 1726,548 L1740,548" stroke-width="1.56" />
<circle cx="1725.6" cy="556" r="1" stroke-width="0.8" fill="#262223"/>
<path d="M1473,577.6L1740,577.6" stroke-width="4.8" />
<path d="M1476,586.2L1740,586.2" stroke-width="2.16" />
<path d="M1474,548L1474,860" stroke-width="2.16" />
<path d="M1487,586L1487,681" stroke-width="1.68" />
<path d="M1480.4,590L1480.4,676" stroke-width="3.12" />
<path d="M1477,640L1477,676" stroke-width="1.44" />
<path d="M1524.4,586L1524.4,681" stroke-width="1.56" />
<path d="M1723.6,586L1723.6,681" stroke-width="1.44" />
<circle cx="1520.6" cy="661" r="1" stroke-width="0.8" fill="#262223"/>
<circle cx="1725.6" cy="610" r="1" stroke-width="0.8" fill="#262223"/>
<circle cx="1725.6" cy="664" r="1" stroke-width="0.8" fill="#262223"/>
<path d="M1474,682.4L1740,682.4" stroke-width="3.36" />
<path d="M1476,689.2L1740,689.2" stroke-width="3.12" />
<path d="M1476,697.4L1740,697.4" stroke-width="1.92" />
<circle cx="1508" cy="693.8" r="1.7" stroke-width="0" fill="#262223" stroke="none"/>
<circle cx="1540" cy="693.8" r="1.7" stroke-width="0" fill="#262223" stroke="none"/>
<circle cx="1571" cy="693.8" r="1.7" stroke-width="0" fill="#262223" stroke="none"/>
<circle cx="1602" cy="693.8" r="1.7" stroke-width="0" fill="#262223" stroke="none"/>
<circle cx="1644" cy="693.8" r="1.7" stroke-width="0" fill="#262223" stroke="none"/>
<circle cx="1675" cy="693.8" r="1.7" stroke-width="0" fill="#262223" stroke="none"/>
<circle cx="1706" cy="693.8" r="1.7" stroke-width="0" fill="#262223" stroke="none"/>
<rect x="1608.4" y="701.6" width="3.4" height="4.4" stroke-width="0.0" fill="#262223" rx="1"/>
<rect x="1634.4" y="701.6" width="3.4" height="4.4" stroke-width="0.0" fill="#262223" rx="1"/>
<path d="M1556,628.8 L1689.4,628.8 M1556,634 L1689.4,634 M1556.6,626 L1556.6,636 M1689,626 L1689,636" stroke-width="1.8" />
<path d="M1557,595.4 L1688,595.4" stroke-width="1.68" />
<path d="M1576,608.8 L1668,608.8" stroke-width="2.4" />
<path d="M1560,598 L1560,629 M1686.6,598 L1686.6,629" stroke-width="1.08" />
<path d="M1589.4,608.8 L1589.4,628.8 M1593.4,608.8 L1593.4,628.8 M1652,606 L1652,628.8 M1656,606 L1656,628.8" stroke-width="2.28" />
<rect x="1653.4" y="604.6" width="12.6" height="2.8" stroke-width="0.0" fill="#262223"/>
<path d="M1660,611 l6,-2.6" stroke-width="1.92" />
<path d="M1560.4,606 L1562,596 L1569,589 L1575,593 L1576,600 L1578.8,612 L1577,616.6 L1574,615 L1571,604.6 L1565.6,604 L1561.6,609 Z" stroke-width="1.2" fill="#262223"/>
<circle cx="1568.8" cy="596.8" r="2.7" stroke-width="0" fill="#fff" stroke="none"/>
<path d="M1685.6,606 L1684,596 L1677,589 L1671,593 L1670,600 L1667.2,612 L1669,616.6 L1672,615 L1675,604.6 L1680.4,604 L1684.4,609 Z" stroke-width="1.2" fill="#262223"/>
<circle cx="1677.2" cy="596.8" r="2.7" stroke-width="0" fill="#fff" stroke="none"/>
<path d="M1593,595.4 L1599.4,586.4 M1597,595.4 L1603.4,586.4 M1646,595.4 L1639.6,586.4 M1642,595.4 L1635.6,586.4" stroke-width="1.68" />
<rect x="1577.4" y="588.6" width="5.4" height="5.4" stroke-width="1.68" fill="#777"/>
<path d="M1620,586.4L1620,595.4" stroke-width="1.32" />
<path d="M1659,595.4 L1662.6,588.6 L1667,588.6" stroke-width="1.68" />
<path d="M1578,634 L1588.8,634 L1586.8,678 L1580,678 Z" stroke-width="1.2" fill="#262223"/>
<path d="M1582,636 L1583,676 M1585.4,636 L1584.8,676" stroke-width="0.84" stroke="#cfcfcf"/>
<path d="M1650,634 L1660.6,634 L1658.6,678 L1651.8,678 Z" stroke-width="1.2" fill="#262223"/>
<path d="M1653.6,636 L1654.4,676 M1657.4,636 L1656.6,676" stroke-width="0.84" stroke="#cfcfcf"/>
<path d="M1573.4,682 Q1574,678.4 1580,677.6 L1587,677.6 Q1591,678.4 1591.4,682 Z" stroke-width="0.72" fill="#262223"/>
<path d="M1646.8,682 Q1647.4,678.4 1652,677.6 L1660,677.6 Q1665,678.4 1665.4,682 Z" stroke-width="0.72" fill="#262223"/>
<circle cx="1666.6" cy="678" r="2.4" stroke-width="1.4" />
<path d="M1664.6,634L1664.6,672" stroke-width="1.32" />
<path d="M1598,634 L1598,681 M1601,634 L1601,681" stroke-width="2.16" />
<path d="M1634.4,634 L1634.4,681 M1639.6,634 L1639.6,681" stroke-width="3.12" />
<rect x="1600" y="640.6" width="11.4" height="16.2" stroke-width="0.0" fill="#262223"/>
<rect x="1602.8" y="641.4" width="6.2" height="4" stroke-width="0.0" fill="#fff" stroke="none"/>
<rect x="1602.8" y="653" width="6.2" height="3.6" stroke-width="0.0" fill="#fff" stroke="none"/>
<path d="M1603,634 L1603,640 M1608.6,634 L1608.6,640 M1611.4,634 L1611.4,681" stroke-width="1.68" />
<path d="M1603,657 L1603,681 M1606.6,657 L1606.6,681 M1603,669 L1606.6,669" stroke-width="1.56" />
<path d="M1611.4,657.4 L1634.4,657.4 M1608.8,660.8 L1634.4,660.8 M1608.8,660.8 L1608.8,681" stroke-width="1.92" />
<circle cx="1622.4" cy="668" r="1.1" stroke-width="0.8" fill="#888"/>
<circle cx="1612.6" cy="632" r="0.9" stroke-width="0.8" />
<circle cx="1632.6" cy="632" r="0.9" stroke-width="0.8" />
<rect x="1469" y="718" width="271" height="12" stroke-width="0.0" fill="#262223"/>
<path d="M1469,714L1469,757" stroke-width="1.68" />
<path d="M1474,697L1474,718" stroke-width="1.8" />
<circle cx="1476.0" cy="733.4" r="2.3" stroke-width="0" fill="#262223" stroke="none"/>
<circle cx="1485.0" cy="733.4" r="2.3" stroke-width="0" fill="#262223" stroke="none"/>
<circle cx="1504.4" cy="733.4" r="2.3" stroke-width="0" fill="#262223" stroke="none"/>
<circle cx="1513.4" cy="733.4" r="2.3" stroke-width="0" fill="#262223" stroke="none"/>
<circle cx="1532.8000000000002" cy="733.4" r="2.3" stroke-width="0" fill="#262223" stroke="none"/>
<circle cx="1541.8000000000002" cy="733.4" r="2.3" stroke-width="0" fill="#262223" stroke="none"/>
<circle cx="1561.2000000000003" cy="733.4" r="2.3" stroke-width="0" fill="#262223" stroke="none"/>
<circle cx="1570.2000000000003" cy="733.4" r="2.3" stroke-width="0" fill="#262223" stroke="none"/>
<circle cx="1589.6000000000004" cy="733.4" r="2.3" stroke-width="0" fill="#262223" stroke="none"/>
<circle cx="1598.6000000000004" cy="733.4" r="2.3" stroke-width="0" fill="#262223" stroke="none"/>
<circle cx="1618.0000000000005" cy="733.4" r="2.3" stroke-width="0" fill="#262223" stroke="none"/>
<circle cx="1627.0000000000005" cy="733.4" r="2.3" stroke-width="0" fill="#262223" stroke="none"/>
<circle cx="1646.4000000000005" cy="733.4" r="2.3" stroke-width="0" fill="#262223" stroke="none"/>
<circle cx="1655.4000000000005" cy="733.4" r="2.3" stroke-width="0" fill="#262223" stroke="none"/>
<circle cx="1674.8000000000006" cy="733.4" r="2.3" stroke-width="0" fill="#262223" stroke="none"/>
<circle cx="1683.8000000000006" cy="733.4" r="2.3" stroke-width="0" fill="#262223" stroke="none"/>
<circle cx="1703.2000000000007" cy="733.4" r="2.3" stroke-width="0" fill="#262223" stroke="none"/>
<circle cx="1712.2000000000007" cy="733.4" r="2.3" stroke-width="0" fill="#262223" stroke="none"/>
<circle cx="1731.6000000000008" cy="733.4" r="2.3" stroke-width="0" fill="#262223" stroke="none"/>
<circle cx="1740.6000000000008" cy="733.4" r="2.3" stroke-width="0" fill="#262223" stroke="none"/>
<path d="M1471,740.4L1740,740.4" stroke-width="1.56" />
<path d="M1473,744.4L1740,744.4" stroke-width="1.56" />
<path d="M1473,744L1473,757" stroke-width="1.44" />
<path d="M1468,757.4L1740,757.4" stroke-width="1.92" />
<path d="M1468,761.8L1740,761.8" stroke-width="3.12" />
<path d="M1468.4,757L1468.4,813" stroke-width="1.8" />
<path d="M1468,811.2L1740,811.2" stroke-width="3.12" />
<path d="M1470,814.6L1740,814.6" stroke-width="1.44" />
<path d="M1740,765.4 L1609,765.4 A21,21 0 0 0 1609,807.4 L1636,807.4" stroke-width="1.92" />
<path d="M1740,772.4 L1609,772.4 A13.6,13.6 0 0 0 1609,799.6 L1640,799.6 L1647,804 L1647,807.4" stroke-width="1.8" />
<circle cx="1637.4" cy="802.8" r="2.6" stroke-width="1.2" />
<path d="M1657,804 Q1660,806 1663,803 L1663,799 Q1663,797 1666,797 L1692,797 Q1694,797 1694,799.4 L1694,808 M1663,803 L1684,803 L1684,808 M1666,800 L1682,800" stroke-width="1.8" />
<path d="M1664,805.6 L1683,805.6" stroke-width="2.64" />
<path d="M1472,813L1472,858" stroke-width="1.68" />
<path d="M1740,757L1740,868" stroke-width="1.68" />
<path d="M1472,824.2L1740,824.2" stroke-width="1.56" />
<path d="M1472,829L1740,829" stroke-width="1.56" />
<rect x="1471" y="831.4" width="269" height="11" stroke-width="0.0" fill="#262223"/>
<path d="M1470,852.4L1740,852.4" stroke-width="3.12" />
<path d="M1462,856.8L1740,856.8" stroke-width="1.56" />
<path d="M1468,792 L1463,792 Q1461.4,792 1461.4,794 L1461.4,857" stroke-width="1.8" />
<rect x="1453" y="857.2" width="30" height="9" stroke-width="1.92" />
<path d="M1483,861L1745,861" stroke-width="1.44" />
<path d="M1453,867.6L1781,867.6" stroke-width="1.92" />
<path d="M1461,869.2 L1500,869.2 M1607,869.2 L1639,869.2" stroke-width="3.6" stroke="#444"/>
<path d="M1745,870.4L1781,870.4" stroke-width="2.4" stroke="#6cc04a"/>
<path d="M1746.4,790.8 L1746.4,700 Q1746.4,691.8 1754,691.8 L1758,691.8 Q1761.6,691.8 1762.6,695 L1773.4,731 L1773.4,790.8 Z" stroke-width="1.92" fill="#fff"/>
<circle cx="1756.2" cy="700.3" r="3.6" stroke-width="1.4" />
<circle cx="1756.2" cy="700.3" r="1.6" stroke-width="0" fill="#262223" stroke="none"/>
<circle cx="1756.2" cy="783.6" r="3.6" stroke-width="1.4" />
<circle cx="1756.2" cy="783.6" r="1.6" stroke-width="0" fill="#262223" stroke="none"/>
<path d="M1754,713 L1771,733 M1757,711 L1774,730 M1754,713 L1757,711" stroke-width="1.68" />
<circle cx="1750.4" cy="738.4" r="1.2" stroke-width="0" fill="#262223" stroke="none"/>
<circle cx="1766.6" cy="740" r="1.2" stroke-width="0" fill="#262223" stroke="none"/>
<circle cx="1750.4" cy="751.4" r="1.2" stroke-width="0" fill="#262223" stroke="none"/>
<circle cx="1762.4" cy="768.8" r="1.2" stroke-width="0" fill="#262223" stroke="none"/>
<circle cx="1757.4" cy="754.6" r="1" stroke-width="0.7" />
<path d="M1772.6,745 L1766,745 Q1761.6,745 1761.6,750 L1761.6,758 Q1761.6,764 1766,764 L1772.6,764 Z" stroke-width="1.2" fill="#262223"/>
<rect x="1770.4" y="756" width="3" height="5.6" stroke-width="0.0" fill="#fff" stroke="none"/>
<path d="M1748,776.4 L1773,776.4 M1748,778.8 L1773,778.8" stroke-width="1.44" />
<path d="M1746.4,786 Q1747,794.6 1755,794.6 L1773.4,794.6" stroke-width="1.68" />
<rect x="1764.6" y="784.6" width="6.6" height="8" stroke-width="1.68" />
<rect x="1767.4" y="786" width="2.6" height="4.6" stroke-width="0.0" fill="#262223"/>
<path d="M1755,798 L1772,798" stroke-width="2.16" />
<rect x="1766" y="792.4" width="5" height="5.6" stroke-width="0.0" fill="#262223"/>
<path d="M1740.4,796.8 L1774.6,796.8 L1774.6,859 L1740.4,859" stroke-width="1.8" />
<path d="M1742,862.4 L1779,862.4 M1752,859 L1752,864 M1762,859 L1762,864 M1744,864.6 L1778,864.6" stroke-width="1.68" />
<path d="M1775.8,726 L1775.8,868" stroke-width="1.68" />
<path d="M1780.6,729 L1780.6,862 Q1780.6,871.6 1790,871.6" stroke-width="1.68" />
<path d="M1775.8,726 L1780.6,726 L1780.6,733 M1774.6,712.6 L1790,712.6 M1774.6,712.6 L1774.6,726" stroke-width="1.56" />
<path d="M1778.6,722 l3,0 l0,12 l-3,0" stroke-width="1.44" />
<path d="M1775,808 l3,1.6 l0,4 l3,2 M1775.8,820 l5,0" stroke-width="1.68" />
<path d="M1777,852 L1780,852 L1780,860" stroke-width="1.68" />
<path d="M1790,862 L1989,862 L1989,866.4 L1975,866.8 L1906,871.6" stroke-width="1.56" />
<path d="M1975,862L1975,866.8" stroke-width="1.2" />
<path d="M1788.4,856 l3,0 l0,5.6" stroke-width="1.44" />
<path d="M1781,871.6L2127,871.6" stroke-width="1.8" />
<path d="M1790.2,41 L2125,41 L2125,871.6" stroke-width="2.04" />
<path d="M1790.2,155 L2096,155 L2096,871.6" stroke-width="2.04" />
<path d="M1790.2,274.8 L2064,274.8 L2064,871.6" stroke-width="2.04" />
<path d="M1790.2,420.6 L2027,420.6 L2027,871.6" stroke-width="2.04" />
<path d="M1913.8,750.6L1913.8,830" stroke-width="1.44" />
<path d="M1910.4,827 L1917.2,827 L1913.8,861.6 Z" stroke-width="0.96" fill="#262223"/>
<path d="M1789.6,872 L1789.6,901 M1913.8,872 L1913.8,901 M1789.6,898.6 L1913.8,898.6" stroke-width="1.56" />
</g>
<g font-family="'Liberation Serif','Noto Serif CJK SC',serif" fill="#555152">
<text x="1926.8" y="24.6" font-size="22.5" textLength="40.4" lengthAdjust="spacingAndGlyphs" text-anchor="start" >Q(kg)</text>
<text x="1807.6" y="65.4" font-size="26.5" textLength="28" lengthAdjust="spacingAndGlyphs" text-anchor="start" >900</text>
<text x="1807.6" y="184" font-size="26.5" textLength="37.2" lengthAdjust="spacingAndGlyphs" text-anchor="start" >1000</text>
<text x="1807.6" y="306.4" font-size="26.5" textLength="37.2" lengthAdjust="spacingAndGlyphs" text-anchor="start" >1250</text>
<text x="1807.6" y="449.4" font-size="26.5" textLength="37.2" lengthAdjust="spacingAndGlyphs" text-anchor="start" >1500</text>
<text x="1840.4" y="894.6" font-size="22" textLength="25.2" lengthAdjust="spacingAndGlyphs" text-anchor="start" >600</text>
<text x="1926.8" y="803.4" font-size="49" textLength="19" lengthAdjust="spacingAndGlyphs" text-anchor="start" >Q</text>
<text transform="translate(2021.8,680.4) rotate(-90)" font-size="27.5" textLength="78.4" lengthAdjust="spacingAndGlyphs">h=6000mm</text>
<text transform="translate(2060,606.8) rotate(-90)" font-size="27.5" textLength="83.4" lengthAdjust="spacingAndGlyphs">h=7200mm</text>
<text transform="translate(2091.8,546.8) rotate(-90)" font-size="27.5" textLength="85" lengthAdjust="spacingAndGlyphs">h=8800mm</text>
<text transform="translate(2123.2,493.4) rotate(-90)" font-size="27.5" textLength="81.6" lengthAdjust="spacingAndGlyphs">h=10000mm</text>
</g>
<g font-family="'Liberation Sans','Noto Sans CJK SC',sans-serif" font-size="31.4" fill="#383334" stroke="#383334" stroke-width="0.3">
<text x="71" y="730.2" textLength="214" lengthAdjust="spacing">工作通道宽度,</text>
<text x="71" y="776.3" textLength="465.5" lengthAdjust="spacing">800*1200托盘/Ast=1680mm</text>
<text x="71" y="821.3" textLength="428" lengthAdjust="spacing">转弯半径/Wa=2220<tspan font-size="22">±</tspan>20mm</text>
</g>
</svg></body></html>
